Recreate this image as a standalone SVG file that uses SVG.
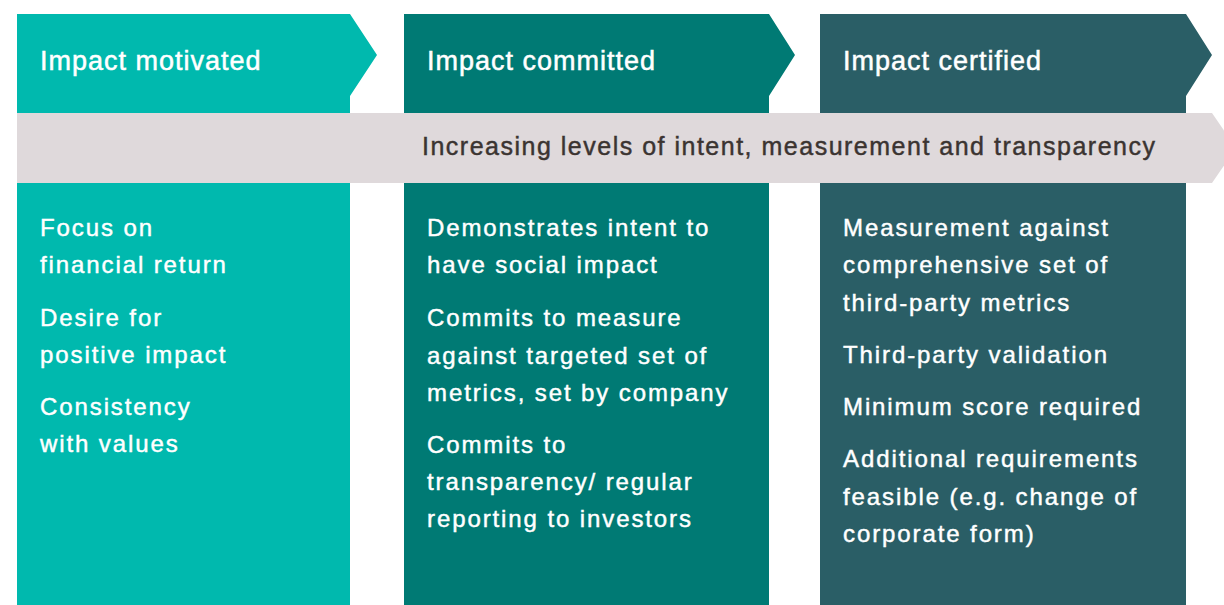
<svg xmlns="http://www.w3.org/2000/svg" width="1224" height="605" viewBox="0 0 1224 605">
  <style>
    .hdr { font-family: "Liberation Sans", Arial, sans-serif; font-size: 27px; fill: #ffffff; stroke: #ffffff; stroke-width: 0.5px; letter-spacing: 1px; }
    .body { font-family: "Liberation Sans", Arial, sans-serif; font-size: 24px; fill: #ffffff; stroke: #ffffff; stroke-width: 0.45px; letter-spacing: 1.9px; }
    .band { font-family: "Liberation Sans", Arial, sans-serif; font-size: 25px; fill: #3b3431; stroke: #3b3431; stroke-width: 0.45px; letter-spacing: 1.5px; }
  </style>
  <rect x="0" y="0" width="1224" height="605" fill="#ffffff"/>
  <g id="col-motivated">
    <polygon points="17,14 350,14 377,55 350,96 350,605 17,605" fill="#00B9AE"/>
    <text class="hdr" x="40" y="70">Impact motivated</text>
    <text class="body" x="40" y="236">Focus on</text>
    <text class="body" x="40" y="273">financial return</text>
    <text class="body" x="40" y="326">Desire for</text>
    <text class="body" x="40" y="363">positive impact</text>
    <text class="body" x="40" y="415">Consistency</text>
    <text class="body" x="40" y="452">with values</text>
  </g>
  <g id="col-committed">
    <polygon points="404,14 769,14 795,55 769,96 769,605 404,605" fill="#007A74"/>
    <text class="hdr" x="427" y="70">Impact committed</text>
    <text class="body" x="427" y="236">Demonstrates intent to</text>
    <text class="body" x="427" y="273">have social impact</text>
    <text class="body" x="427" y="326">Commits to measure</text>
    <text class="body" x="427" y="364">against targeted set of</text>
    <text class="body" x="427" y="401">metrics, set by company</text>
    <text class="body" x="427" y="453">Commits to</text>
    <text class="body" x="427" y="490">transparency/ regular</text>
    <text class="body" x="427" y="527">reporting to investors</text>
  </g>
  <g id="col-certified">
    <polygon points="820,14 1186,14 1212,55 1186,96 1186,605 820,605" fill="#2A5E66"/>
    <text class="hdr" x="843" y="70">Impact certified</text>
    <text class="body" x="843" y="236">Measurement against</text>
    <text class="body" x="843" y="273">comprehensive set of</text>
    <text class="body" x="843" y="311">third-party metrics</text>
    <text class="body" x="843" y="363">Third-party validation</text>
    <text class="body" x="843" y="415">Minimum score required</text>
    <text class="body" x="843" y="467">Additional requirements</text>
    <text class="body" x="843" y="505">feasible (e.g. change of</text>
    <text class="body" x="843" y="542">corporate form)</text>
  </g>
  <g id="band">
    <polygon points="17,113 1212,113 1236,148 1212,183 17,183" fill="#DFD9DB"/>
    <text class="band" x="422" y="155">Increasing levels of intent, measurement and transparency</text>
  </g>
  <g id="connectors"></g>
</svg>
